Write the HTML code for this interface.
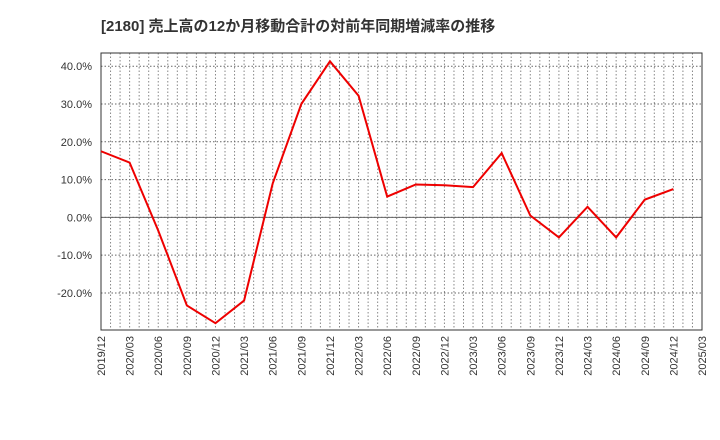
<!DOCTYPE html>
<html><head><meta charset="utf-8"><style>body{margin:0;background:#fff}svg{display:block}</style></head>
<body>
<svg id="c" width="720" height="440" xmlns="http://www.w3.org/2000/svg" font-family="'Liberation Sans','Noto Sans CJK JP',sans-serif">
<text x="101" y="31" font-size="15" font-weight="bold" fill="#333">[2180]  売上高の12か月移動合計の対前年同期増減率の推移</text>
<g id="grid"></g><g id="axes"></g><g id="series"></g>
</svg>
<script>
const categories=["2019/12","2020/03","2020/06","2020/09","2020/12","2021/03","2021/06","2021/09","2021/12","2022/03","2022/06","2022/09","2022/12","2023/03","2023/06","2023/09","2023/12","2024/03","2024/06","2024/09","2024/12","2025/03"];
const values=[17.5,14.5,-3.5,-23.3,-28,-22,9,30,41.3,32.2,5.5,8.7,8.5,8,17,0.5,-5.3,2.8,-5.3,4.7,7.5];
const yTicks=[40,30,20,10,0,-10,-20];
const L=101,R=702,T=53,B=330,ymin=-29.8,ymax=43.5;
const ns="http://www.w3.org/2000/svg";
const x=i=>L+(R-L)*i/(categories.length-1);
const y=v=>B-(v-ymin)/(ymax-ymin)*(B-T);
function mk(p,t,a){const e=document.createElementNS(ns,t);for(const k in a)e.setAttribute(k,a[k]);document.getElementById(p).appendChild(e);return e;}
const nm=(categories.length-1)*3;
for(let m=1;m<nm;m++){const xx=L+(R-L)*m/nm;
const g=mk('grid','line',{x1:xx,x2:xx,y1:T,y2:B,stroke:'#888','stroke-dasharray':'1.5,2','stroke-width':1});

}
yTicks.forEach(v=>{
const g=mk('grid','line',{x1:L,x2:R,y1:y(v),y2:y(v),stroke:'#666','stroke-dasharray':'1.5,2','stroke-width':1});


const t=mk('axes','text',{x:L-9,y:y(v)+4,'text-anchor':'end','font-size':11,fill:'#333'});
t.textContent=v.toFixed(1)+'%';

});
const z=mk('axes','line',{x1:L,x2:R,y1:y(0),y2:y(0),stroke:'#666','stroke-width':1});


const f=mk('axes','rect',{x:L,y:T,width:R-L,height:B-T,fill:'none',stroke:'#333','stroke-width':1});


categories.forEach((c,i)=>{
const t=mk('axes','text',{transform:`translate(${x(i)+4},${B+6}) rotate(-90)`,'text-anchor':'end','font-size':11,fill:'#333'});
t.textContent=c;

});
const p=mk('series','polyline',{points:values.map((v,i)=>x(i)+','+y(v)).join(' '),fill:'none',stroke:'#e00','stroke-width':2});


</script>
</body></html>
